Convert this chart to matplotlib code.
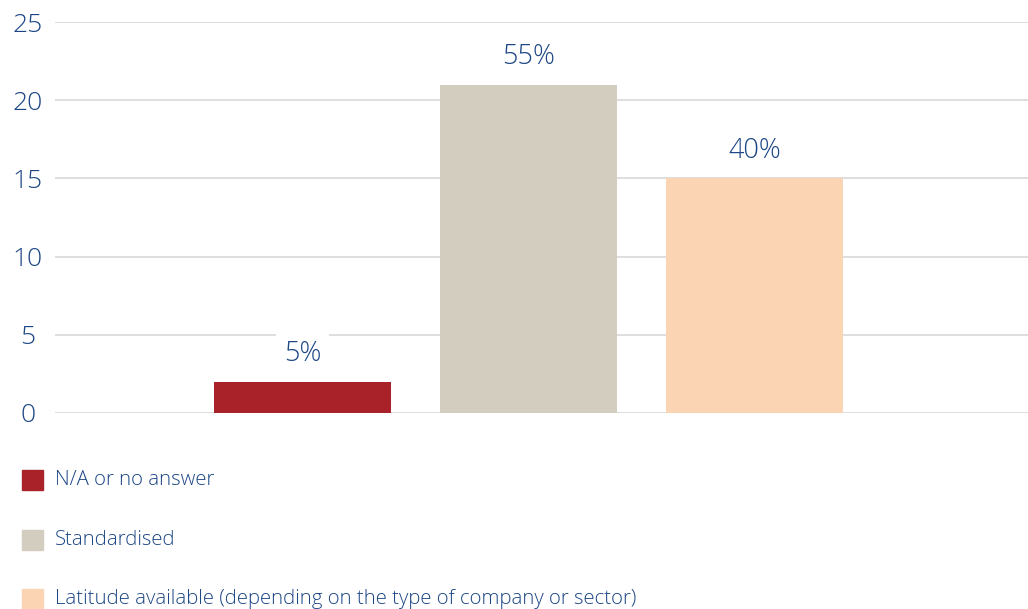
import matplotlib.pyplot as plt
from matplotlib.patches import Rectangle

categories = ["N/A or no answer", "Standardised",
              "Latitude available (depending on the type of company or sector)"]
counts = [2, 21, 15]
share_labels = ["5%", "55%", "40%"]
colors = ["#AA2229", "#D3CDBF", "#FBD4B4"]
yticks = [0, 5, 10, 15, 20, 25]

text_blue = "#1C4685"
plt.rcParams["font.family"] = ["Open Sans", "DejaVu Sans"]
plt.rcParams["font.weight"] = "light"

fig = plt.figure(figsize=(10.28, 6.09), dpi=100)
ax = fig.add_axes([55 / 1028, 1 - 413 / 609, 1 - 55 / 1028, (413 - 22) / 609])

positions = [1, 2, 3]
bars = ax.bar(positions, counts, width=0.785, color=colors, zorder=2)

ax.set_xlim(-0.095, 4.21)
ax.set_ylim(0, 25)
ax.set_yticks(yticks)
ax.set_yticklabels([str(t) for t in yticks], ha="center")
ax.tick_params(axis="y", length=0, pad=19.5, labelsize=19, labelcolor=text_blue)
ax.set_xticks([])
ax.yaxis.grid(True, color="#DEDEDE", linewidth=1.4, zorder=0)
for s in ax.spines.values():
    s.set_visible(False)

for b, lab in zip(bars, share_labels):
    ax.annotate(lab, (b.get_x() + b.get_width() / 2, b.get_height()),
                xytext=(0, 20), textcoords="offset points",
                ha="center", va="center", fontsize=19.5, color=text_blue,
                bbox=dict(boxstyle="square,pad=0.3", fc="white", ec="none"),
                zorder=3)

# legend drawn below the plot, one entry per row
row_y = [480, 540, 599]
for name, c, y in zip(categories, colors, row_y):
    fig.patches.append(Rectangle((22 / 1028, 1 - (y + 10) / 609), 21 / 1028, 20 / 609,
                                 transform=fig.transFigure, color=c))
    fig.text(55 / 1028, 1 - y / 609, name, ha="left", va="center",
             fontsize=14.7, color=text_blue)

fig.savefig("out.png", dpi=100)
